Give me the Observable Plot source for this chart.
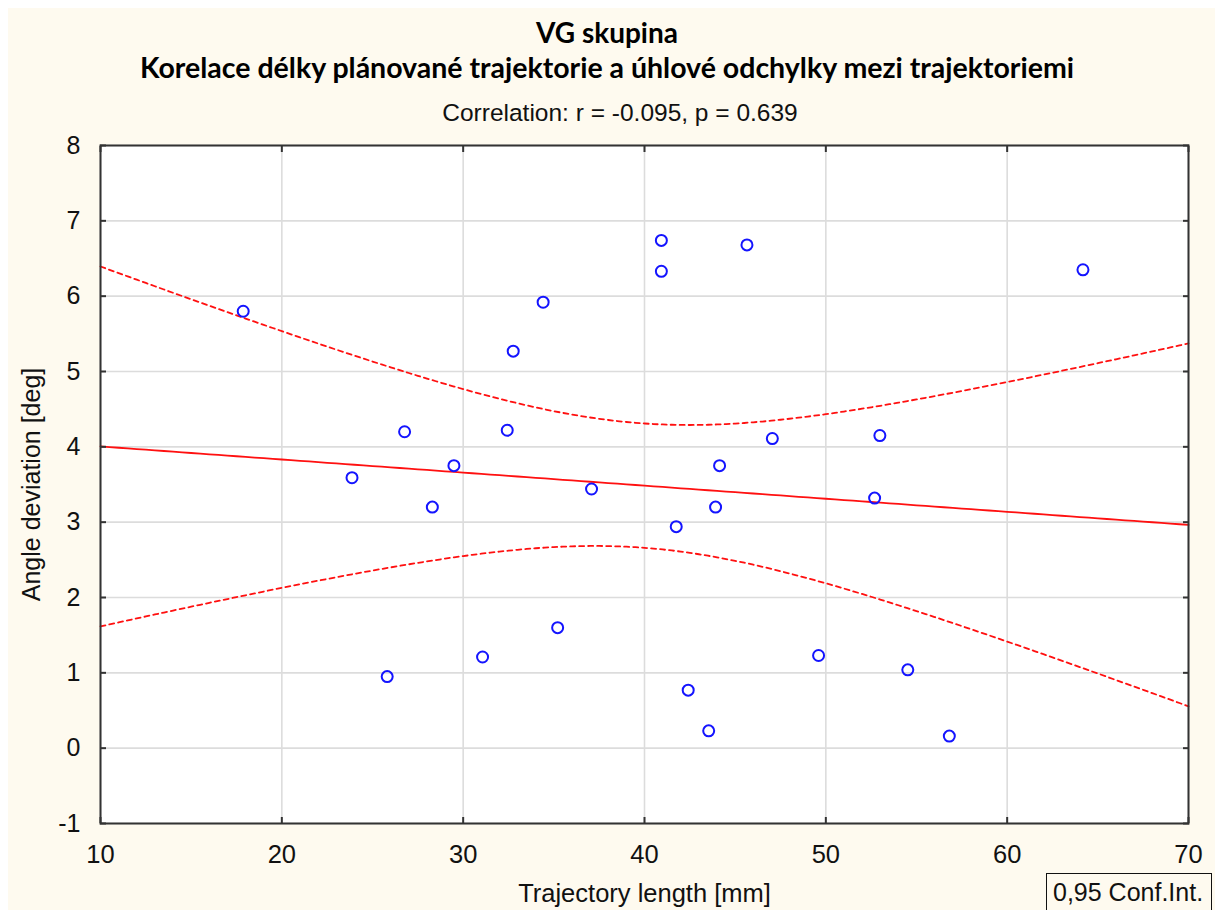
<!DOCTYPE html>
<html>
<head>
<meta charset="utf-8">
<script src="https://cdn.jsdelivr.net/npm/d3@7"></script>
<script src="https://cdn.jsdelivr.net/npm/@observablehq/plot@0.6"></script>
<style>
  html, body { margin: 0; padding: 0; background: #ffffff; }
  #page { position: relative; width: 1215px; height: 910px; overflow: hidden; }
  #bg { position: absolute; left: 8px; top: 8px; right: 0; bottom: 0; background: #fefaef; }
  .title { position: absolute; left: 0; width: 1214px; text-align: center; white-space: nowrap;
           font-family: Lato, "Open Sans", sans-serif; font-weight: 700; color: #000; }
  #sub { position: absolute; left: 320px; width: 600px; text-align: center; white-space: nowrap;
         font-family: "Liberation Sans", Arial, sans-serif; font-size: 24.5px; line-height: 24.5px; color: #111; }
  #chart { position: absolute; left: 0; top: 120px; }
  #legend { position: absolute; left: 1046px; top: 873px; width: 166px; height: 44px; box-sizing: border-box;
            border: 1.3px solid #111; background: transparent; font-family: "Liberation Sans", Arial, sans-serif;
            font-size: 25px; line-height: 25px; color: #111; padding: 6px 0 0 6px; white-space: nowrap; }
</style>
</head>
<body>
<div id="page">
  <div id="bg"></div>
  <div class="title" id="t1" style="top:18px;font-size:28px;line-height:28px">VG skupina</div>
  <div class="title" id="t2" style="top:53px;font-size:28.5px;line-height:28.5px">Korelace délky plánované trajektorie a úhlové odchylky mezi trajektoriemi</div>
  <div id="sub" style="top:101px">Correlation: r = -0.095, p = 0.639</div>
  <div id="chart"></div>
  <div id="legend">0,95 Conf.Int.</div>
</div>
<script>
// Data
const trajectoryLength = [17.87, 23.87, 25.81, 26.77, 28.30, 29.49, 31.07, 32.43, 32.76, 34.41, 35.21, 37.08, 40.93, 40.93,
                          41.75, 42.41, 43.54, 43.92, 44.14, 45.65, 47.05, 49.60, 52.69, 52.98, 54.52, 56.81, 64.18];
const angleDeviation   = [5.80, 3.59, 0.95, 4.20, 3.20, 3.75, 1.21, 4.22, 5.27, 5.92, 1.60, 3.44, 6.74, 6.33,
                          2.94, 0.77, 0.23, 3.20, 3.75, 6.68, 4.11, 1.23, 3.32, 4.15, 1.04, 0.16, 6.35];
const xTicks = [10, 20, 30, 40, 50, 60, 70];
const yTicks = [-1, 0, 1, 2, 3, 4, 5, 6, 7, 8];
const confLevel = 0.95;
const tCrit = 2.0595; // t(0.975, df = 25)

const points = trajectoryLength.map((x, i) => ({length: x, angle: angleDeviation[i]}));

// Least-squares fit and 95% confidence band of the mean
const n = points.length;
const mx = d3.mean(trajectoryLength), my = d3.mean(angleDeviation);
const sxx = d3.sum(trajectoryLength, x => (x - mx) ** 2);
const sxy = d3.sum(points, d => (d.length - mx) * (d.angle - my));
const slope = sxy / sxx, intercept = my - slope * mx;
const sse = d3.sum(points, d => (d.angle - (intercept + slope * d.length)) ** 2);
const s = Math.sqrt(sse / (n - 2));
const [x0, x1] = d3.extent(xTicks);
const fitCurve = d3.range(0, 121).map(i => {
  const x = x0 + (x1 - x0) * i / 120;
  const f = intercept + slope * x;
  const se = s * Math.sqrt(1 / n + (x - mx) ** 2 / sxx);
  return {x, fit: f, lo: f - tCrit * se, hi: f + tCrit * se};
});

const gridStyle = {stroke: "#dcdcdc", strokeOpacity: 1, strokeWidth: 1.6};
const fmt = d => String(d);

const chart = Plot.plot({
  width: 1215,
  height: 790,
  marginLeft: 100,
  marginRight: 27,
  marginTop: 25,
  marginBottom: 87,
  style: {fontFamily: "'Liberation Sans', Arial, sans-serif", fontSize: "25px", background: "transparent", color: "#111", overflow: "visible"},
  x: {domain: [x0, x1]},
  y: {domain: d3.extent(yTicks)},
  marks: [
    Plot.frame({fill: "white"}),
    Plot.gridX(xTicks, gridStyle),
    Plot.gridY(yTicks, gridStyle),
    Plot.line(fitCurve, {x: "x", y: "fit", stroke: "#ff1010", strokeWidth: 1.8}),
    Plot.line(fitCurve, {x: "x", y: "lo", stroke: "#ff1010", strokeWidth: 1.8, strokeDasharray: "5,4"}),
    Plot.line(fitCurve, {x: "x", y: "hi", stroke: "#ff1010", strokeWidth: 1.8, strokeDasharray: "5,4"}),
    Plot.dot(points, {x: "length", y: "angle", r: 5.5, stroke: "#1414ff", strokeWidth: 2, fill: "none"}),
    Plot.frame({stroke: "#333", strokeWidth: 2}),
    Plot.axisX(xTicks, {anchor: "bottom", tickSize: -6, tickPadding: 27, stroke: "#333", strokeWidth: 2, tickFormat: fmt,
      label: "Trajectory length [mm]", labelAnchor: "center", labelOffset: 78, labelArrow: "none", fontSize: 25.5}),
    Plot.axisX(xTicks, {anchor: "top", tickSize: -6, stroke: "#333", strokeWidth: 2, tickFormat: () => "", label: null}),
    Plot.axisY(yTicks, {anchor: "left", tickSize: -6, tickPadding: 26, stroke: "#333", strokeWidth: 2, tickFormat: fmt,
      label: "Angle deviation [deg]", labelAnchor: "center", labelOffset: 78, labelArrow: "none", fontSize: 25}),
    Plot.axisY(yTicks, {anchor: "right", tickSize: -6, stroke: "#333", strokeWidth: 2, tickFormat: () => "", label: null})
  ]
});
document.getElementById("chart").appendChild(chart);
</script>
</body>
</html>
